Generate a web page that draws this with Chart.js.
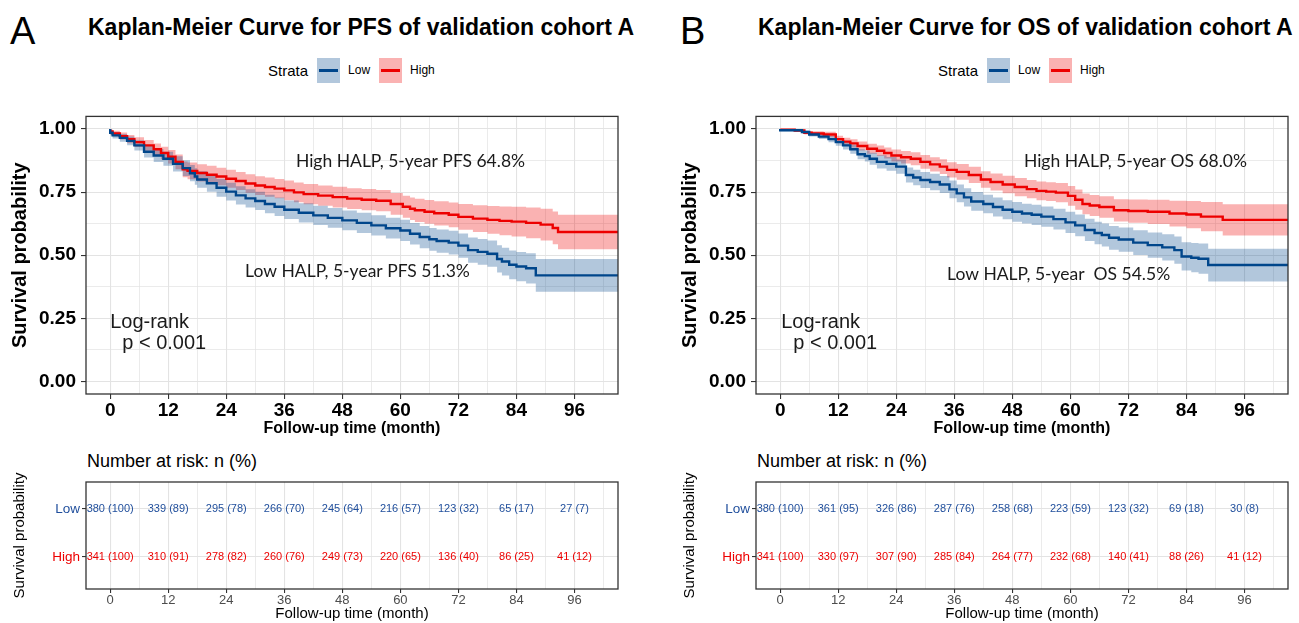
<!DOCTYPE html>
<html lang="en">
<head>
<meta charset="UTF-8">
<title>Kaplan-Meier HALP validation cohort A</title>
<script src="https://cdn.jsdelivr.net/npm/chart.js"></script>
<style>
    body { margin: 0; background: #fff; font-family: 'Liberation Sans', Arial, sans-serif; }
    #wrap { position: relative; width: 1299px; height: 623px; overflow: hidden; background: #fff; }
    .abs { position: absolute; }
    .letter { font-family: 'Liberation Sans Narrow', 'Arial Narrow', sans-serif; font-size: 38px; line-height: 1; color: #000; }
    .title { font-weight: bold; font-size: 23px; line-height: 26px; color: #000; white-space: nowrap; }
    .legend { display: flex; align-items: center; height: 24px; white-space: nowrap; }
    .legend .lt { font-size: 15px; margin-right: 9px; }
    .legend .key { position: relative; width: 23px; height: 25px; margin-right: 8px; }
    .legend .key i { position: absolute; left: 2px; right: 2px; top: 11px; height: 3px; }
    .legend .lab { font-size: 12px; margin-right: 9px; }
    .risk { font-size: 18px; line-height: 20px; white-space: nowrap; }
    .box { position: absolute; }
</style>
</head>
<body>
<div id="wrap">
    <div class="abs letter" style="left:10px;top:12px">A</div>
    <div class="abs title" style="left:88px;top:14px">Kaplan-Meier Curve for PFS of validation cohort A</div>
    <div class="abs legend" style="left:268px;top:58px">
        <span class="lt">Strata</span>
        <span class="key" style="background:rgba(0,70,139,0.3)"><i style="background:#00468B"></i></span><span class="lab">Low</span>
        <span class="key" style="background:rgba(237,0,0,0.3)"><i style="background:#ED0000"></i></span><span class="lab">High</span>
    </div>
    <div class="box" style="left:0;top:100px;width:640px;height:340px"><canvas id="kmA"></canvas></div>
    <div class="abs risk" style="left:87px;top:451px">Number at risk: n (%)</div>
    <div class="box" style="left:0;top:470px;width:640px;height:153px"><canvas id="riskA"></canvas></div>

    <div class="abs letter" style="left:680px;top:12px">B</div>
    <div class="abs title" style="left:758px;top:14px">Kaplan-Meier Curve for OS of validation cohort A</div>
    <div class="abs legend" style="left:938px;top:58px">
        <span class="lt">Strata</span>
        <span class="key" style="background:rgba(0,70,139,0.3)"><i style="background:#00468B"></i></span><span class="lab">Low</span>
        <span class="key" style="background:rgba(237,0,0,0.3)"><i style="background:#ED0000"></i></span><span class="lab">High</span>
    </div>
    <div class="box" style="left:670px;top:100px;width:640px;height:340px"><canvas id="kmB"></canvas></div>
    <div class="abs risk" style="left:757px;top:451px">Number at risk: n (%)</div>
    <div class="box" style="left:670px;top:470px;width:640px;height:153px"><canvas id="riskB"></canvas></div>
</div>

<script>
    // ---- PFS, Low HALP (time, survival, lower CI, upper CI)
    const pfsLowT = [0, 0.5, 2, 3.5, 5, 7, 9, 11, 13, 15, 16.5, 17.5, 18, 20, 22, 24, 26, 28, 30, 32, 34, 36, 39, 42, 45, 48, 51, 54, 57, 60, 62, 64, 66, 67.5, 70, 72, 74, 76, 78, 80, 81, 82.5, 84, 86, 88, 91, 105];
    const pfsLowS = [1, .985, .975, .965, .953, .935, .91, .895, .882, .862, .845, .825, .812, .8, .785, .767, .752, .737, .725, .715, .703, .692, .68, .668, .658, .648, .638, .628, .618, .607, .598, .585, .572, .563, .556, .55, .538, .52, .513, .506, .485, .475, .462, .455, .448, .42, .42];
    const pfsLowL = [1, .975, .962, .95, .936, .915, .887, .869, .854, .832, .814, .793, .779, .767, .751, .732, .717, .701, .689, .679, .666, .655, .643, .63, .62, .609, .599, .588, .578, .566, .556, .542, .528, .518, .51, .503, .49, .47, .462, .454, .431, .42, .405, .397, .388, .355, .355];
    const pfsLowU = [1, .995, .988, .98, .97, .955, .933, .921, .91, .892, .876, .857, .845, .833, .819, .802, .787, .773, .761, .751, .74, .729, .717, .706, .696, .687, .677, .668, .658, .648, .64, .628, .616, .608, .602, .597, .586, .57, .564, .558, .539, .53, .519, .513, .508, .485, .485];

    // ---- PFS, High HALP
    const pfsHighT = [0, 0.5, 2, 3.5, 5, 7, 9, 10.5, 12, 13.5, 15, 16, 18, 20, 22, 24, 26, 28, 30, 32, 34, 36, 38, 40, 43, 46, 49, 52, 55, 58, 60.5, 62, 63, 65, 67, 70, 72, 75, 78, 80.5, 83, 86, 89, 91.5, 92.6, 97, 105];
    const pfsHighS = [1, .99, .982, .972, .96, .948, .935, .92, .905, .89, .87, .84, .834, .826, .819, .812, .803, .794, .784, .776, .77, .764, .757, .749, .742, .736, .73, .724, .72, .716, .703, .692, .684, .678, .672, .666, .66, .652, .645, .64, .636, .633, .628, .621, .608, .592, .592];
    const pfsHighL = [1, .982, .971, .958, .944, .929, .914, .897, .88, .863, .841, .809, .801, .792, .784, .777, .767, .758, .747, .739, .732, .726, .718, .71, .702, .696, .689, .683, .678, .674, .66, .648, .639, .632, .625, .618, .611, .601, .592, .585, .579, .574, .567, .558, .543, .524, .524];
    const pfsHighU = [1, .998, .993, .986, .976, .967, .956, .943, .93, .917, .899, .871, .867, .86, .854, .847, .839, .83, .821, .813, .808, .802, .796, .788, .782, .776, .771, .765, .762, .758, .746, .736, .729, .724, .719, .714, .709, .703, .698, .695, .693, .692, .689, .684, .673, .66, .66];

    // ---- OS, Low HALP
    const osLowT = [0, 4.5, 6, 8, 10, 11.5, 13, 14.5, 16, 17.5, 18.5, 20, 22, 24, 26, 27.5, 29, 31, 33, 35, 36.5, 38, 39.5, 42, 44, 46, 48, 50, 52, 54, 56.5, 59, 61, 63, 65, 66.5, 68, 70, 73, 76, 79, 81.5, 83, 85, 86.5, 88.5, 91.2, 105];
    const osLowS = [1, .995, .988, .978, .97, .96, .948, .935, .92, .9, .893, .882, .87, .862, .851, .818, .808, .798, .79, .78, .761, .745, .729, .713, .703, .691, .68, .672, .665, .66, .653, .643, .63, .618, .6, .588, .58, .569, .562, .55, .54, .531, .52, .495, .49, .486, .461, .461];
    const osLowL = [1, .991, .982, .97, .96, .948, .934, .919, .902, .88, .871, .858, .844, .835, .823, .788, .777, .766, .757, .746, .726, .71, .693, .676, .666, .653, .642, .633, .626, .62, .613, .602, .588, .575, .556, .543, .534, .522, .514, .501, .49, .479, .466, .439, .432, .426, .396, .396];
    const osLowU = [1, .999, .994, .986, .98, .972, .962, .951, .938, .92, .915, .906, .896, .889, .879, .848, .839, .83, .823, .814, .796, .78, .765, .75, .74, .729, .718, .711, .704, .7, .693, .684, .672, .661, .644, .633, .626, .616, .61, .599, .59, .583, .574, .551, .548, .546, .526, .526];

    // ---- OS, High HALP
    const osHighT = [0, 3, 5, 6.5, 9, 11.5, 13, 14.5, 16, 18, 20, 21.5, 23, 25, 27, 29, 31, 33, 34.5, 36.5, 39, 41.5, 43.5, 46, 48.5, 51, 53, 55, 57, 59.5, 61, 62.5, 64, 66, 69, 72, 76, 80.5, 84, 87, 91.5, 92.6, 105];
    const osHighS = [1, .997, .994, .985, .982, .978, .96, .95, .943, .933, .922, .914, .905, .895, .888, .882, .87, .86, .851, .838, .83, .818, .8, .79, .78, .77, .762, .755, .752, .748, .735, .72, .703, .697, .691, .678, .675, .672, .665, .661, .653, .64, .64];
    const osHighL = [1, .994, .989, .978, .973, .967, .947, .935, .927, .915, .902, .893, .883, .871, .863, .856, .843, .832, .822, .808, .799, .786, .767, .756, .745, .734, .726, .718, .715, .71, .696, .68, .662, .655, .648, .634, .629, .624, .614, .607, .595, .578, .578];
    const osHighU = [1, 1, .999, .992, .991, .989, .973, .965, .959, .951, .942, .935, .927, .919, .913, .908, .897, .888, .88, .868, .861, .85, .833, .824, .815, .806, .798, .792, .789, .786, .774, .76, .744, .739, .734, .722, .721, .72, .716, .715, .711, .702, .702];

    // ---- Number at risk
    const riskTimes = [0, 12, 24, 36, 48, 60, 72, 84, 96];
    const pfsRiskLowN = [380, 339, 295, 266, 245, 216, 123, 65, 27];
    const pfsRiskLowPct = [100, 89, 78, 70, 64, 57, 32, 17, 7];
    const pfsRiskHighN = [341, 310, 278, 260, 249, 220, 136, 86, 41];
    const pfsRiskHighPct = [100, 91, 82, 76, 73, 65, 40, 25, 12];
    const osRiskLowN = [380, 361, 326, 287, 258, 223, 123, 69, 30];
    const osRiskLowPct = [100, 95, 86, 76, 68, 59, 32, 18, 8];
    const osRiskHighN = [341, 330, 307, 285, 264, 232, 140, 88, 41];
    const osRiskHighPct = [100, 97, 90, 84, 77, 68, 41, 26, 12];

    const BLUE = '#00468B', RED = '#ED0000';
    const BLUE_BAND = 'rgba(0,70,139,0.3)', RED_BAND = 'rgba(237,0,0,0.3)';
    const GRID = '#e3e3e3';

    Chart.defaults.font.family = "'Liberation Sans', Arial, sans-serif";
    Chart.defaults.color = '#000';

    const pts = (t, v) => t.map((x, i) => ({ x: x, y: v[i] }));

    function curve(t, s, lo, hi, line, band) {
        return [
            { data: pts(t, lo), stepped: 'after', borderWidth: 0, borderColor: 'transparent', pointRadius: 0, fill: false, order: 2 },
            { data: pts(t, hi), stepped: 'after', borderWidth: 0, borderColor: 'transparent', pointRadius: 0, fill: '-1', backgroundColor: band, order: 2 },
            { data: pts(t, s), stepped: 'after', borderColor: line, borderWidth: 2.4, pointRadius: 0, fill: false, order: 0 }
        ];
    }

    // panel border drawn round the chart area
    const frame = {
        id: 'frame',
        afterDatasetsDraw(chart) {
            const a = chart.chartArea, c = chart.ctx;
            c.save();
            c.strokeStyle = '#333';
            c.lineWidth = 1.3;
            c.strokeRect(a.left, a.top, a.right - a.left, a.bottom - a.top);
            c.restore();
        }
    };

    // free text inside the plot, anchored in data units
    const notes = {
        id: 'notes',
        afterDatasetsDraw(chart, args, opts) {
            const c = chart.ctx, sx = chart.scales.x, sy = chart.scales.y;
            c.save();
            c.textBaseline = 'middle';
            c.textAlign = 'left';
            (opts.items || []).forEach(n => {
                c.font = n.font;
                c.fillStyle = '#1a1a1a';
                c.fillText(n.text, sx.getPixelForValue(n.x), sy.getPixelForValue(n.y));
            });
            c.restore();
        }
    };

    const isMajorX = v => Math.abs(v % 12) < 1e-6;

    function xAxis(size, bold, color, title, titleSize, titlePad, height) {
        return {
            type: 'linear', min: -5, max: 105,
            afterFit: s => { s.height = height; },
            ticks: {
                stepSize: 6, includeBounds: false, autoSkip: false, maxRotation: 0,
                padding: 0, color: color,
                font: { size: size, weight: bold ? 'bold' : 'normal' },
                callback: v => isMajorX(v) ? String(v) : ''
            },
            grid: {
                color: GRID, tickLength: bold ? 5 : 4,
                lineWidth: c => isMajorX(c.tick.value) ? 1.1 : 0.7,
                tickColor: c => isMajorX(c.tick.value) ? '#333' : 'rgba(0,0,0,0)'
            },
            border: { display: false },
            title: { display: true, text: title, padding: { top: 0, bottom: titlePad }, font: { size: titleSize, weight: bold ? 'bold' : 'normal', lineHeight: 1.2 } }
        };
    }

    function kmChart(id, sets, items) {
        const isMajorY = v => Math.abs((v * 4) - Math.round(v * 4)) < 1e-6;
        return new Chart(document.getElementById(id), {
            type: 'line',
            data: { datasets: sets },
            options: {
                responsive: true, maintainAspectRatio: false, animation: false,
                layout: { padding: { left: 0, top: 8, right: 22, bottom: 0 } },
                plugins: { legend: { display: false }, tooltip: { enabled: false }, notes: { items: items } },
                scales: {
                    x: xAxis(19, true, '#000', 'Follow-up time (month)', 16, 2, 46),
                    y: {
                        type: 'linear', min: -0.05, max: 1.05,
                        afterFit: s => { s.width = 86; },
                        ticks: {
                            stepSize: 0.125, includeBounds: false, padding: 5,
                            font: { size: 19, weight: 'bold' },
                            callback: v => isMajorY(v) ? v.toFixed(2) : ''
                        },
                        grid: {
                            color: GRID, tickLength: 5,
                            lineWidth: c => isMajorY(c.tick.value) ? 1.1 : 0.7,
                            tickColor: c => isMajorY(c.tick.value) ? '#333' : 'rgba(0,0,0,0)'
                        },
                        border: { display: false },
                        title: { display: true, text: 'Survival probability', padding: { top: 8, bottom: 0 }, font: { size: 20, weight: 'bold', lineHeight: 1.2 } }
                    }
                }
            },
            plugins: [notes, frame]
        });
    }

    // number-at-risk labels written at their (time, row) positions
    const cells = {
        id: 'cells',
        afterDatasetsDraw(chart) {
            const c = chart.ctx;
            c.save();
            c.textAlign = 'center';
            c.textBaseline = 'middle';
            c.font = "11px 'Liberation Sans', Arial, sans-serif";
            chart.data.datasets.forEach((ds, di) => {
                const meta = chart.getDatasetMeta(di);
                c.fillStyle = ds.textColor;
                meta.data.forEach((p, i) => c.fillText(ds.labels[i], p.x, p.y));
            });
            c.restore();
        }
    };

    function riskChart(id, lowN, lowPct, highN, highPct) {
        const row = (n, pct, y, col) => ({
            data: riskTimes.map(t => ({ x: t, y: y })),
            labels: n.map((v, i) => v + ' (' + pct[i] + ')'),
            textColor: col, pointRadius: 0, showLine: false
        });
        return new Chart(document.getElementById(id), {
            type: 'scatter',
            data: { datasets: [row(lowN, lowPct, 2, '#1f4e9c'), row(highN, highPct, 1, RED)] },
            options: {
                responsive: true, maintainAspectRatio: false, animation: false,
                layout: { padding: { left: 0, top: 12, right: 22, bottom: 0 } },
                plugins: { legend: { display: false }, tooltip: { enabled: false } },
                scales: {
                    x: xAxis(13, false, '#4d4d4d', 'Follow-up time (month)', 15, 0, 34),
                    y: {
                        type: 'linear', min: 0.33, max: 2.56,
                        afterFit: s => { s.width = 86; },
                        afterBuildTicks: s => { s.ticks = [{ value: 1 }, { value: 2 }]; },
                        ticks: {
                            padding: 2, font: { size: 13.5 },
                            color: c => c.tick && c.tick.value === 2 ? '#1f4e9c' : RED,
                            callback: v => v === 2 ? 'Low' : 'High'
                        },
                        grid: { color: GRID, lineWidth: 1.1, tickLength: 4, tickColor: '#333' },
                        border: { display: false },
                        title: { display: true, text: 'Survival probability', padding: { top: 11, bottom: 0 }, font: { size: 15, lineHeight: 1.2 } }
                    }
                }
            },
            plugins: [cells, frame]
        });
    }

    const noteFont = "17.5px Lato, 'Open Sans', sans-serif";
    const pFont = "20px 'Liberation Sans', Arial, sans-serif";

    kmChart('kmA',
        curve(pfsLowT, pfsLowS, pfsLowL, pfsLowU, BLUE, BLUE_BAND).concat(curve(pfsHighT, pfsHighS, pfsHighL, pfsHighU, RED, RED_BAND)),
        [
            { text: 'High HALP, 5-year PFS 64.8%', x: 38.4, y: 0.87, font: noteFont },
            { text: 'Low HALP, 5-year PFS 51.3%', x: 27.9, y: 0.437, font: noteFont },
            { text: 'Log-rank', x: 0, y: 0.234, font: pFont },
            { text: 'p < 0.001', x: 2.5, y: 0.149, font: pFont }
        ]);
    kmChart('kmB',
        curve(osLowT, osLowS, osLowL, osLowU, BLUE, BLUE_BAND).concat(curve(osHighT, osHighS, osHighL, osHighU, RED, RED_BAND)),
        [
            { text: 'High HALP, 5-year OS 68.0%', x: 50.4, y: 0.87, font: noteFont },
            { text: 'Low HALP, 5-year  OS 54.5%', x: 34.5, y: 0.425, font: noteFont },
            { text: 'Log-rank', x: 0.2, y: 0.234, font: pFont },
            { text: 'p < 0.001', x: 2.7, y: 0.149, font: pFont }
        ]);
    riskChart('riskA', pfsRiskLowN, pfsRiskLowPct, pfsRiskHighN, pfsRiskHighPct);
    riskChart('riskB', osRiskLowN, osRiskLowPct, osRiskHighN, osRiskHighPct);
</script>
</body>
</html>
